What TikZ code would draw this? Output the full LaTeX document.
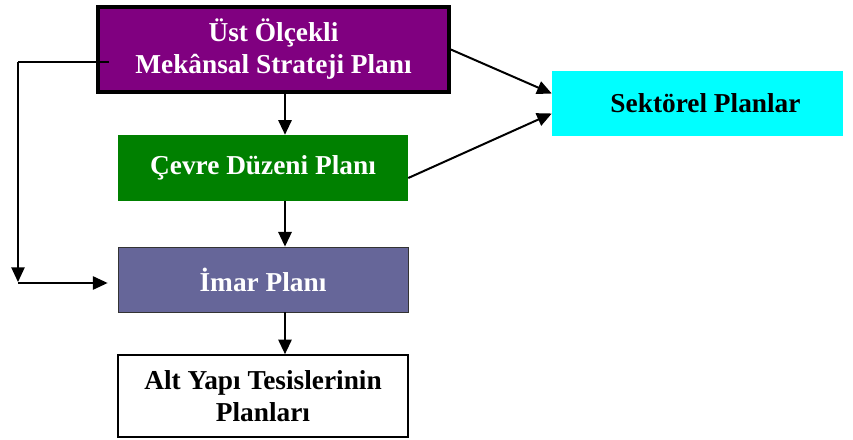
\documentclass[tikz,border=0pt]{standalone}
\usepackage{fontspec}
\setmainfont{Liberation Serif}
\usetikzlibrary{arrows.meta}
\definecolor{ustmor}{HTML}{800080}
\definecolor{cdpyesil}{HTML}{008000}
\definecolor{imarmavi}{HTML}{666699}
\definecolor{sekcyan}{HTML}{00FFFF}
\tikzset{
  planbox/.style={inner sep=0pt,align=center,font=\fontsize{20.5}{24}\selectfont\bfseries},
  arr/.style={-{Triangle[length=11pt,width=10pt]},line width=1.5pt},
  loopline/.style={line width=1.1pt}
}
\begin{document}
\begin{tikzpicture}[x=0.75pt,y=-0.75pt]
\useasboundingbox (0,0) rectangle (853,439);
\node[planbox,fill=ustmor,draw=black,line width=3pt,text=white,minimum width=263pt,minimum height=63.75pt] (ust) at (273.5,49.5) {Üst Ölçekli\\Mekânsal Strateji Planı};
\node[planbox,fill=cdpyesil,text=white,minimum width=217.5pt,minimum height=49.5pt] (cdp) at (263,168) {Çevre Düzeni Planı};
\node[planbox,fill=imarmavi,draw=black!80,line width=0.6pt,text=white,minimum width=217.5pt,minimum height=48.75pt] (imar) at (263,279.5) {İmar Planı};
\node[planbox,fill=white,draw=black,line width=1.2pt,minimum width=217.5pt,minimum height=61.5pt] (alt) at (263,396) {Alt Yapı Tesislerinin\\Planları};
\node[planbox,fill=sekcyan,minimum width=218.25pt,minimum height=48.75pt] (sek) at (697.5,103.5) {\hspace*{12pt}Sektörel Planlar};
% dikey akis
\coordinate (ax) at (285,0);
\draw[arr] (ust.south -| ax) -- (cdp.north -| ax);
\draw[arr] (cdp.south -| ax) -- (imar.north -| ax);
\draw[arr] (imar.south -| ax) -- (alt.north -| ax);
% sektorel planlara
\draw[arr] (ust.east) -- ([yshift=7.5pt]sek.west);
\draw[arr] ([yshift=-7.5pt]cdp.east) -- ([yshift=-7.5pt]sek.west);
% sol baglanti
\coordinate (lt) at (18,62);
\coordinate (ld) at (18,282);
\coordinate (lb) at (18,283);
\draw[loopline] ([xshift=9.75pt]ust.west |- lt) -- (lt);
\draw[arr,line width=1.1pt] (lt) -- (ld);
\draw[arr,line width=1.1pt,shorten >=7.5pt] (lb) -- (lb -| imar.west);
\end{tikzpicture}
\end{document}
